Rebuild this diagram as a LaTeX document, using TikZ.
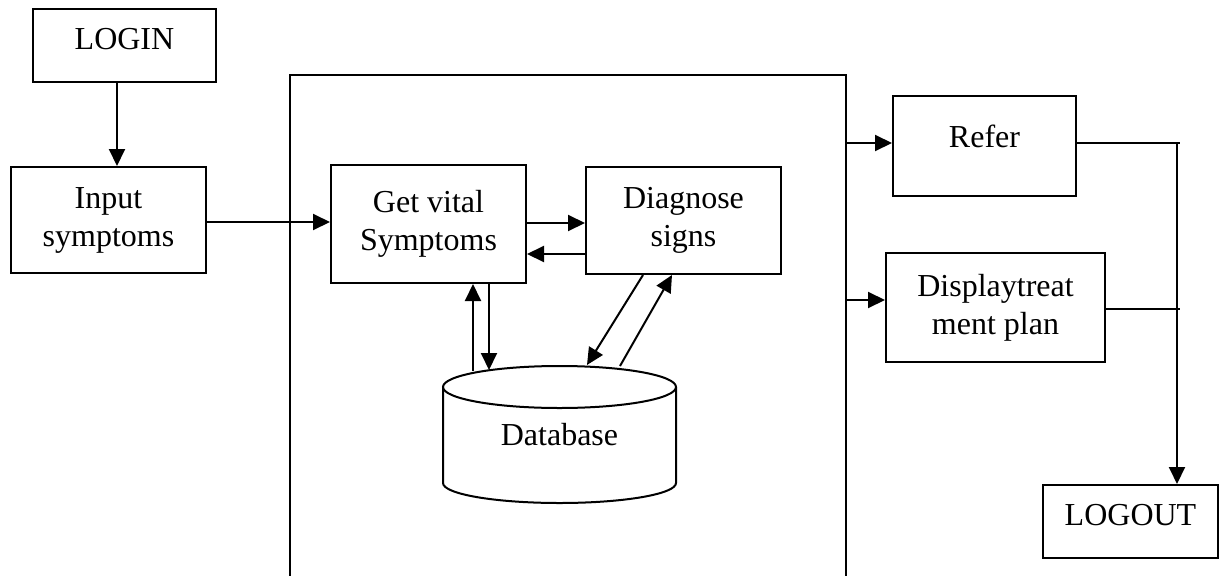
\documentclass[tikz,border=0pt]{standalone}
\usepackage{fontspec}
\setmainfont{Liberation Serif}
\usetikzlibrary{arrows.meta}
\tikzset{
  box/.style={draw, line width=2pt, inner sep=0pt, align=center,
    font=\fontsize{32}{38}\selectfont},
  arr/.style={line width=2pt, -{Triangle[length=17pt,width=16pt]}},
  ln/.style={line width=2pt},
}
\begin{document}
\begin{tikzpicture}[x=1pt, y=-1pt]
\useasboundingbox (0,0) rectangle (1219,576);
\clip (0,0) rectangle (1219,576);
\fill[white] (0,0) rectangle (1219,576);
% big system box (runs past the bottom edge)
\node[draw, line width=2pt, inner sep=0pt, minimum width=556pt, minimum height=540pt, anchor=north west] (sys) at (289,74) {};
% boxes
\node[box, minimum width=183pt, minimum height=73pt, text depth=13pt] (login) at (124.5,45.5) {LOGIN};
\node[box, minimum width=195pt, minimum height=106pt] (input) at (108.5,220) {Input\\symptoms};
\node[box, minimum width=195pt, minimum height=118pt] (gv) at (428.5,224) {Get vital\\Symptoms};
\node[box, minimum width=195pt, minimum height=107pt] (diag) at (683.5,220.5) {Diagnose\\signs};
\node[box, minimum width=183pt, minimum height=100pt, text depth=20pt] (refer) at (984.5,146) {Refer};
\node[box, minimum width=219pt, minimum height=109pt] (disp) at (995.5,307.5) {Displaytreat\\ment plan};
\node[box, minimum width=175pt, minimum height=73pt, text depth=14pt] (logout) at (1130.5,521.5) {LOGOUT};
% database cylinder
\fill[white] (443,387) -- (443,483) arc[start angle=180, end angle=360, x radius=116.5pt, y radius=20pt] -- (676,387) -- cycle;
\draw[ln] (443,387) -- (443,483) arc[start angle=180, end angle=360, x radius=116.5pt, y radius=20pt] -- (676,387);
\draw[ln, fill=white] (559.5,387) ellipse [x radius=116.5pt, y radius=21pt];
\node[inner sep=0pt, minimum width=233pt, minimum height=137pt, font=\fontsize{32}{38}\selectfont] (db) at (559.5,434.5) {Database};
\coordinate (dbtop) at (559.5,370);
% connectors
\draw[arr] ([xshift=-7.5pt]login.south) -- ([xshift=-7.5pt]login.south |- input.north);
\draw[ln] ([yshift=-2pt]input.east) -- ([yshift=-2pt]input.east -| sys.west);
\draw[arr] ([yshift=-2pt]input.east -| sys.west) -- ([yshift=-2pt]input.east -| gv.west);
\draw[arr] ([yshift=1pt]gv.east) -- ([yshift=1pt]gv.east -| diag.west);
\draw[arr] ([yshift=-33.5pt]diag.west) -- ([yshift=-33.5pt]diag.west -| gv.east);
\draw[arr] ([xshift=44.5pt,yshift=-1pt]gv.south |- dbtop) -- ([xshift=44.5pt]gv.south);
\draw[arr] ([xshift=60.5pt]gv.south) -- ([xshift=60.5pt]gv.south |- dbtop);
\draw[arr] ([xshift=-40.5pt]diag.south) -- ([xshift=27.5pt,yshift=5pt]dbtop);
\draw[arr] ([xshift=60.5pt,yshift=4pt]dbtop) -- ([xshift=-11.5pt]diag.south);
\draw[arr] ([yshift=3pt]refer.west -| sys.east) -- ([yshift=3pt]refer.west);
\draw[arr] ([yshift=7.5pt]disp.west -| sys.east) -- ([yshift=7.5pt]disp.west);
\coordinate (j1) at (1180,143);
\coordinate (j2) at (1180,309);
\draw[ln] (refer.east |- j1) -- (j1);
\draw[ln] (disp.east |- j2) -- (j2);
\draw[arr] ([xshift=-3pt]j1) -- ([xshift=-3pt]j1 |- logout.north);
\end{tikzpicture}
\end{document}
